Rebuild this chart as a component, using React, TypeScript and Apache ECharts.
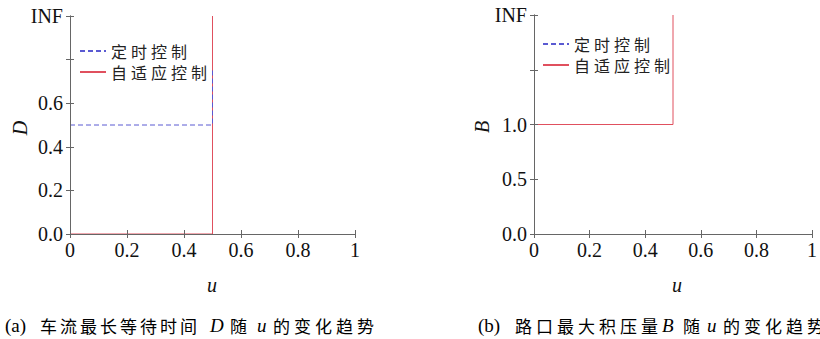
import React, { useEffect, useRef } from 'react';
import * as echarts from 'echarts';

const seriesNames = ['定时控制', '自适应控制'];
const uTickValues = [0, 0.2, 0.4, 0.6, 0.8, 1];
const uTickLabels = ['0', '0.2', '0.4', '0.6', '0.8', '1'];
const dTickValues = [0, 0.2, 0.4, 0.6, 0.8, 1];
const dTickLabels = ['0.0', '0.2', '0.4', '0.6', '', 'INF'];
const bTickValues = [0, 0.5, 1, 1.5, 2];
const bTickLabels = ['0.0', '0.5', '1.0', '', 'INF'];

// (u, D) – D = 1 stands for INF
const fixedD = [[0, 0.5], [0.5, 0.5], [0.5, 0.75]];
const adaptiveD = [[0, 0], [0.5, 0], [0.5, 1]];
// (u, B) – B = 2 stands for INF; the fixed-timing curve lies under the adaptive one
const fixedB = [[0, 1], [0.5, 1]];
const adaptiveB = [[0, 1], [0.5, 1], [0.5, 2]];

const SERIF = '"Liberation Serif", "Times New Roman", serif';
const CJK = '"Noto Sans CJK SC", sans-serif';
const BLUE = '#5a5ad2';
const RED = '#e0505e';
const AXIS = '#666';

const labelFrom = (vals: number[], labs: string[]) => (v: number) => {
  const i = vals.findIndex((t) => Math.abs(t - v) < 1e-9);
  return i >= 0 ? labs[i] : '';
};

const spaced = (s: string, style: string) =>
  Array.from(s).map((ch) => `{${style}|${ch}}`).join('');

export default function App() {
  const ref = useRef<HTMLDivElement>(null);
  useEffect(() => {
    if (!ref.current) return;
    const chart = echarts.init(ref.current, undefined, { renderer: 'svg' });

    const axisCommon = {
      z: 6,
      axisLine: { show: true, lineStyle: { color: AXIS, width: 1 } },
      axisTick: { show: true, inside: true, length: 4, lineStyle: { color: AXIS } },
      splitLine: { show: false },
    };
    const labelStyle = { fontFamily: SERIF, fontSize: 20, color: '#111' };

    const xAxes = [0, 1].flatMap((g) => [
      {
        type: 'value', gridIndex: g, min: 0, max: 1, interval: 0.2, position: 'bottom',
        ...axisCommon,
        axisLabel: { ...labelStyle, margin: 6, formatter: labelFrom(uTickValues, uTickLabels) },
      },
      {
        type: 'value', gridIndex: g, min: 0, max: 1, interval: 0.2, position: 'top',
        ...axisCommon, axisLabel: { show: false },
      },
    ]);
    const yAxes = [
      {
        type: 'value', gridIndex: 0, min: 0, max: 1, interval: 0.2, position: 'left',
        ...axisCommon,
        axisLabel: { ...labelStyle, margin: 7, formatter: labelFrom(dTickValues, dTickLabels) },
      },
      {
        type: 'value', gridIndex: 0, min: 0, max: 1, interval: 0.2, position: 'right',
        ...axisCommon, axisLabel: { show: false },
      },
      {
        type: 'value', gridIndex: 1, min: 0, max: 2, interval: 0.5, position: 'left',
        ...axisCommon,
        axisLabel: { ...labelStyle, margin: 7, formatter: labelFrom(bTickValues, bTickLabels) },
      },
      {
        type: 'value', gridIndex: 1, min: 0, max: 2, interval: 0.5, position: 'right',
        ...axisCommon, axisLabel: { show: false },
      },
    ];

    const lineSeries = (name: string, data: number[][], xi: number, yi: number, dashed: boolean) => ({
      type: 'line', name, data, xAxisIndex: xi, yAxisIndex: yi,
      symbol: 'none', showSymbol: false,
      color: dashed ? BLUE : RED,
      lineStyle: { color: dashed ? BLUE : RED, width: 1, type: dashed ? [5, 3] : 'solid' },
    });

    const legendCommon = {
      orient: 'vertical', itemWidth: 26, itemHeight: 0.1, itemGap: 5,
      data: seriesNames, selectedMode: false,
      itemStyle: { opacity: 0 },
      formatter: (n: string) => spaced(n, 'c'),
      textStyle: {
        color: '#222',
        rich: { c: { fontFamily: CJK, fontSize: 16, width: 20, lineHeight: 19, color: '#222' } },
      },
    };

    const capStyles = {
      p: { fontFamily: SERIF, fontSize: 19, color: '#111' },
      c: { fontFamily: CJK, fontSize: 17, color: '#111' },
      i: { fontFamily: SERIF, fontSize: 19, fontStyle: 'italic', color: '#111' },
    };
    const tok = (t: string, s: string, w: number) => `{${s}${w}|${t}}`;
    const widths = new Set<string>();
    const mk = (parts: [string, string, number][]) =>
      parts.map(([t, s, w]) => { widths.add(`${s}${w}`); return tok(t, s, w); }).join('');
    const perChar = (t: string, s: string, w: number): [string, string, number][] =>
      Array.from(t).map((ch) => [ch, s, w] as [string, string, number]);

    const capA = mk([
      ['(a)', 'p', 35],
      ...perChar('车流最长等待时间', 'c', 20),
      [' ', 'p', 10],
      ['D', 'i', 20],
      ['随', 'c', 27],
      ['u', 'i', 16],
      ...perChar('的变化趋势', 'c', 21),
    ]);
    const capB = mk([
      ['(b)', 'p', 37],
      ...perChar('路口最大积压量', 'c', 21),
      ['B', 'i', 21],
      ['随', 'c', 24],
      ['u', 'i', 16],
      ...perChar('的变化趋势', 'c', 21),
    ]);
    const rich: Record<string, any> = {};
    widths.forEach((k) => {
      const s = k[0] as 'p' | 'c' | 'i';
      rich[k] = { ...capStyles[s], width: Number(k.slice(1)), lineHeight: 20, align: 'left' };
    });

    const axisName = (text: string, x: number, y: number, rot = 0) => ({
      type: 'text', x, y, rotation: rot,
      style: { text, font: `italic 20px ${SERIF}`, fill: '#111', align: 'center', verticalAlign: 'middle' },
    });

    chart.setOption({
      animation: false,
      backgroundColor: '#fff',
      grid: [
        { left: 70, top: 16, width: 285, height: 218 },
        { left: 534, top: 15, width: 285, height: 219 },
      ],
      xAxis: xAxes,
      yAxis: yAxes,
      legend: [
        { ...legendCommon, left: 74, top: 38 },
        { ...legendCommon, left: 537, top: 31 },
      ],
      series: [
        lineSeries('定时控制', fixedB, 2, 2, true),
        lineSeries('自适应控制', adaptiveB, 2, 2, false),
        lineSeries('自适应控制', adaptiveD, 0, 0, false),
        lineSeries('定时控制', fixedD, 0, 0, true),
      ],
      graphic: [
        axisName('D', 20, 128, Math.PI / 2),
        axisName('u', 212, 285),
        axisName('B', 482, 127, Math.PI / 2),
        axisName('u', 677, 285),
        { type: 'text', x: 5, y: 325, style: { text: capA, rich, verticalAlign: 'middle', align: 'left' } },
        { type: 'text', x: 478, y: 325, style: { text: capB, rich, verticalAlign: 'middle', align: 'left' } },
      ],
    });
    return () => chart.dispose();
  }, []);
  return <div ref={ref} style={{ position: 'absolute', left: 0, top: 0, width: 820, height: 339 }} />;
}
